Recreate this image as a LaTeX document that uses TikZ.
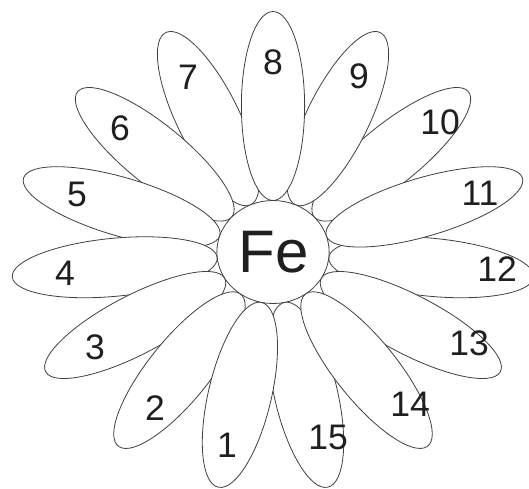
\documentclass[tikz,border=0pt]{standalone}
\usepackage{fontspec}
\setmainfont{Liberation Sans}
\begin{document}
\begin{tikzpicture}[x=1pt,y=1pt,
  petal/.style={draw=black!75, line width=0.8pt, fill=white},
  num/.style={inner sep=0pt, text=black!88, font=\fontsize{35.5}{36}\selectfont},
  core/.style={inner sep=0pt, text=black!88, font=\fontsize{60}{60}\selectfont}]
\useasboundingbox (0,0) rectangle (529,488);
\clip (0,0) rectangle (529,488);
\begin{scope}[shift={(273,236)}, xscale=1.09]
  \foreach \k in {7,10,6,9,5,12,15,4,8,11,13,3,14,2,1} {
    \pgfmathsetmacro\ang{90+(8-\k)*24}
    \draw[petal, rotate=\ang] (146,0) ellipse (94.5 and 29);
  }
  \draw[petal] (0,0) circle (51.5);
\end{scope}
\node[core] (fe) at (274,236) {Fe};
\foreach \k/\x/\y in {1/227/445, 2/155/408, 3/95/347, 4/65/273, 5/77/194,
  6/120/128, 7/188/77, 8/273/62, 9/359/76, 10/440/122, 11/480/193,
  12/497/269, 13/469/343, 14/410/404, 15/328/437} {
  \node[num] (n\k) at (\x,488-\y) {\k};
}
\end{tikzpicture}
\end{document}
